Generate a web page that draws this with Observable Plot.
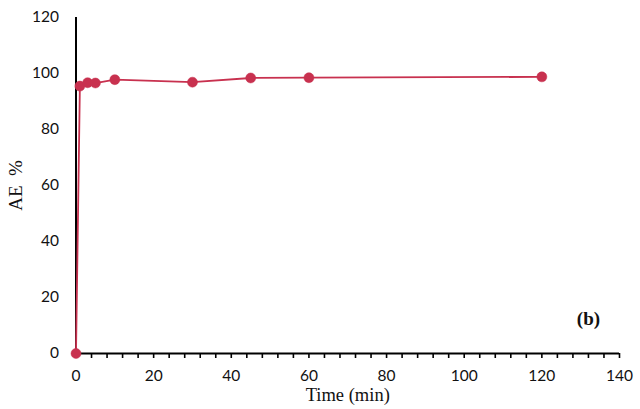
<!DOCTYPE html>
<html>
<head>
<meta charset="utf-8">
<script src="https://cdn.jsdelivr.net/npm/d3@7"></script>
<script src="https://cdn.jsdelivr.net/npm/@observablehq/plot@0.6"></script>
<style>
  html, body { margin: 0; padding: 0; background: #fff; }
  #chart { width: 640px; height: 409px; }
</style>
</head>
<body>
<div id="chart"></div>
<script>
const timeMin = [0, 1, 3, 5, 10, 30, 45, 60, 120];
const aePercent = [0, 95.5, 96.7, 96.6, 97.8, 96.9, 98.4, 98.5, 98.8];
const xTickLabels = [0, 20, 40, 60, 80, 100, 120, 140];
const xMinorTicks = d3.range(0, 141, 4);
const yTickLabels = [0, 20, 40, 60, 80, 100, 120];

const data = timeMin.map((t, i) => ({t, ae: aePercent[i]}));
const red = "#c8314f";

const plot = Plot.plot({
  width: 640,
  height: 409,
  marginLeft: 75.5,
  marginRight: 21,
  marginTop: 17,
  marginBottom: 56,
  style: {fontFamily: "Lato, 'Open Sans', sans-serif", fontSize: "15px", color: "#111", background: "#fff"},
  x: {domain: [0, 140]},
  y: {domain: [0, 120]},
  marks: [
    Plot.axisX({ticks: xMinorTicks, tickSize: 5, tickFormat: () => "", strokeWidth: 1.6, stroke: "#000", label: null}),
    Plot.axisX({ticks: xTickLabels, tickSize: 0, tickPadding: 16, fontSize: 15.5, label: null}),
    Plot.axisY({ticks: yTickLabels, tickSize: 0, tickPadding: 17, fontSize: 15.5, label: null}),
    Plot.ruleY([0], {stroke: "#000", strokeWidth: 2}),
    Plot.ruleX([0], {stroke: "#000", strokeWidth: 2}),
    Plot.line(data, {x: "t", y: "ae", stroke: red, strokeWidth: 1.8}),
    Plot.dot(data, {x: "t", y: "ae", r: 5, fill: red, stroke: red, strokeWidth: 0.5}),
    Plot.text(["Time (min)"], {frameAnchor: "bottom", dy: 47, fontFamily: "'Liberation Serif', serif", fontSize: 18.5, fill: "#111"}),
    Plot.text(["AE  %"], {frameAnchor: "left", dx: -60, rotate: -90, fontFamily: "'Liberation Serif', serif", fontSize: 19, fill: "#111", textAnchor: "middle"}),
    Plot.text(["(b)"], {x: 132, y: 12.5, fontFamily: "'Liberation Serif', serif", fontSize: 19, fontWeight: "bold", fill: "#111"})
  ]
});
document.getElementById("chart").appendChild(plot);
</script>
</body>
</html>
